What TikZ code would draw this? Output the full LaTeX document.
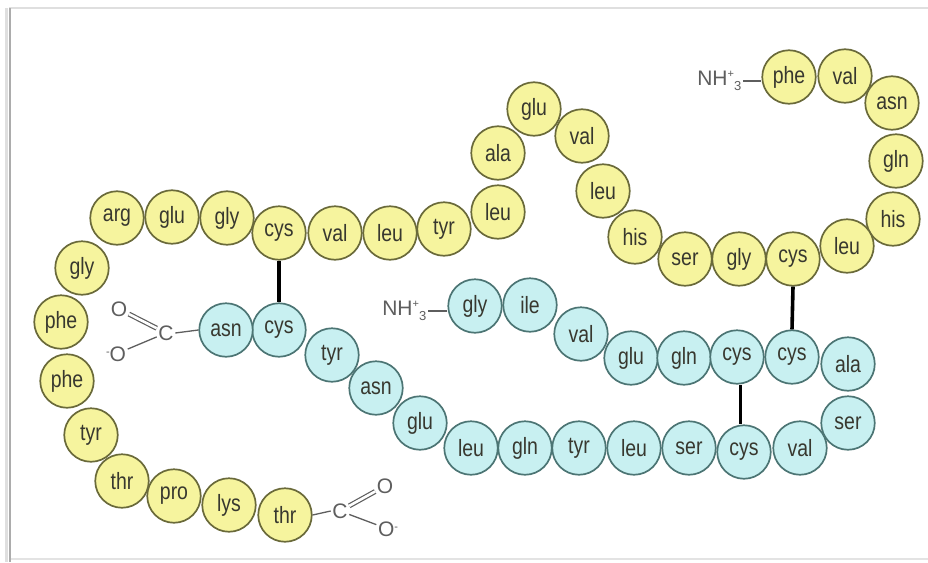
\documentclass[tikz,border=0pt]{standalone}
\usepackage{fontspec}
\setsansfont{Liberation Sans}
\usepackage{graphicx}
\usetikzlibrary{calc}
\definecolor{yfill}{HTML}{F6F49E}
\definecolor{ydraw}{HTML}{6A6A3A}
\definecolor{cfill}{HTML}{C8F0F1}
\definecolor{cdraw}{HTML}{4C7574}
\definecolor{txt}{HTML}{38382F}
\definecolor{chem}{HTML}{5E5E5E}
\newcommand\aalbl[1]{\scalebox{0.95}[1.15]{#1}}
\newcommand\nhthree{NH\raisebox{8pt}{\fontsize{11}{11}\selectfont +}\raisebox{-5pt}{\fontsize{13}{13}\selectfont 3}}
\tikzset{
  aabase/.style={circle, line width=1.7pt, minimum size=53.5pt, inner sep=0pt, text=txt,
    font=\sffamily\fontsize{20.5}{20.5}\selectfont},
  aay/.style={aabase, draw=ydraw, fill=yfill},
  aac/.style={aabase, draw=cdraw, fill=cfill},
  chemtxt/.style={text=chem, font=\sffamily\fontsize{21}{21}\selectfont, inner sep=1.5pt},
  bond/.style={draw=chem, line width=1.3pt},
  dbond/.style={draw=chem, line width=1.2pt, double, double distance=2.6pt},
  ssbond/.style={draw=black, line width=3.6pt}
}
\begin{document}
\begin{tikzpicture}[x=1pt,y=-1pt]
\useasboundingbox (0,0) rectangle (928,562);
\fill[white] (0,0) rectangle (928,562);
% frame
\draw[gray!25, line width=1.2pt] (9,8) -- (928,8);
\draw[gray!22, line width=1.2pt] (9,559) -- (928,559);
\draw[gray!25, line width=3pt] (6.5,8) -- (6.5,562);
\draw[gray!65, line width=2pt] (9.5,8) -- (9.5,562);

% B chain (yellow)
\node[aay] (y1) at (789,77) {\aalbl{phe}};
\node[aay] (y2) at (845,76) {\aalbl{val}};
\node[aay] (y3) at (892,103) {\aalbl{asn}};
\node[aay] (y4) at (896,161) {\aalbl{gln}};
\node[aay] (y5) at (893,219) {\aalbl{his}};
\node[aay] (y6) at (847,246) {\aalbl{leu}};
\node[aay] (y7) at (793,259) {\aalbl{cys}};
\node[aay] (y8) at (739,259) {\aalbl{gly}};
\node[aay] (y9) at (685,259) {\aalbl{ser}};
\node[aay] (y10) at (635,237) {\aalbl{his}};
\node[aay] (y11) at (603,191) {\aalbl{leu}};
\node[aay] (y12) at (582,136) {\aalbl{val}};
\node[aay] (y13) at (534,109) {\aalbl{glu}};
\node[aay] (y14) at (498,153) {\aalbl{ala}};
\node[aay] (y15) at (498,212) {\aalbl{leu}};
\node[aay] (y16) at (444,229) {\aalbl{tyr}};
\node[aay] (y17) at (390,233) {\aalbl{leu}};
\node[aay] (y18) at (335,233) {\aalbl{val}};
\node[aay] (y19) at (279,233) {\aalbl{cys}};
\node[aay] (y20) at (227,218) {\aalbl{gly}};
\node[aay] (y21) at (172,217) {\aalbl{glu}};
\node[aay] (y22) at (117,218) {\aalbl{arg}};
\node[aay] (y23) at (82,268) {\aalbl{gly}};
\node[aay] (y24) at (61,322) {\aalbl{phe}};
\node[aay] (y25) at (67,381) {\aalbl{phe}};
\node[aay] (y26) at (91,435) {\aalbl{tyr}};
\node[aay] (y27) at (122,481) {\aalbl{thr}};
\node[aay] (y28) at (174,496) {\aalbl{pro}};
\node[aay] (y29) at (229,505) {\aalbl{lys}};
\node[aay] (y30) at (285,515) {\aalbl{thr}};

% A chain (cyan)
\node[aac] (c1) at (475,306) {\aalbl{gly}};
\node[aac] (c2) at (530,305) {\aalbl{ile}};
\node[aac] (c3) at (581,334) {\aalbl{val}};
\node[aac] (c4) at (631,358) {\aalbl{glu}};
\node[aac] (c5) at (684,358) {\aalbl{gln}};
\node[aac] (c6) at (737,357) {\aalbl{cys}};
\node[aac] (c7) at (792,357) {\aalbl{cys}};
\node[aac] (c8) at (848,364) {\aalbl{ala}};
\node[aac] (c9) at (848,423) {\aalbl{ser}};
\node[aac] (c10) at (800,448) {\aalbl{val}};
\node[aac] (c11) at (744,452) {\aalbl{cys}};
\node[aac] (c12) at (689,448) {\aalbl{ser}};
\node[aac] (c13) at (634,448) {\aalbl{leu}};
\node[aac] (c14) at (579,448) {\aalbl{tyr}};
\node[aac] (c15) at (525,448) {\aalbl{gln}};
\node[aac] (c16) at (471,448) {\aalbl{leu}};
\node[aac] (c17) at (420,423) {\aalbl{glu}};
\node[aac] (c18) at (376,388) {\aalbl{asn}};
\node[aac] (c19) at (332,355) {\aalbl{tyr}};
\node[aac] (c20) at (279,330) {\aalbl{cys}};
\node[aac] (c21) at (226,330) {\aalbl{asn}};

% disulfide bridges
\draw[ssbond] (y19.south) -- (c20.north);
\draw[ssbond] (y7.south) -- (c7.north);
\coordinate (mid) at ($(c6)!0.5!(c11)$);
\draw[ssbond] (c6.south -| mid) -- (c11.north -| mid);

% N termini
\node[chemtxt, anchor=east] (nB) at (743,81) {\nhthree};
\draw[bond] (nB.east) -- (nB.east -| y1.west);
\node[chemtxt, anchor=east] (nA) at (428,311) {\nhthree};
\draw[bond] (nA.east) -- (nA.east -| c1.west);

% C terminus of A chain
\node[chemtxt] (cC) at (166,333) {C};
\node[chemtxt] (cO) at (119,309) {O};
\node[chemtxt] (cOm) at (116,354) {\raisebox{6pt}{\fontsize{11}{11}\selectfont -}O};
\draw[bond] (c21.west) -- (cC.east);
\draw[dbond] (cO) -- (cC);
\draw[bond] (cC) -- (cOm);

% C terminus of B chain
\node[chemtxt] (yC) at (340,511) {C};
\node[chemtxt] (yO) at (385,486) {O};
\node[chemtxt] (yOm) at (388,529) {O\raisebox{6pt}{\fontsize{11}{11}\selectfont -}};
\draw[bond] (y30.east) -- (yC.west);
\draw[dbond] (yC) -- (yO);
\draw[bond] (yC) -- (yOm);
\end{tikzpicture}
\end{document}
